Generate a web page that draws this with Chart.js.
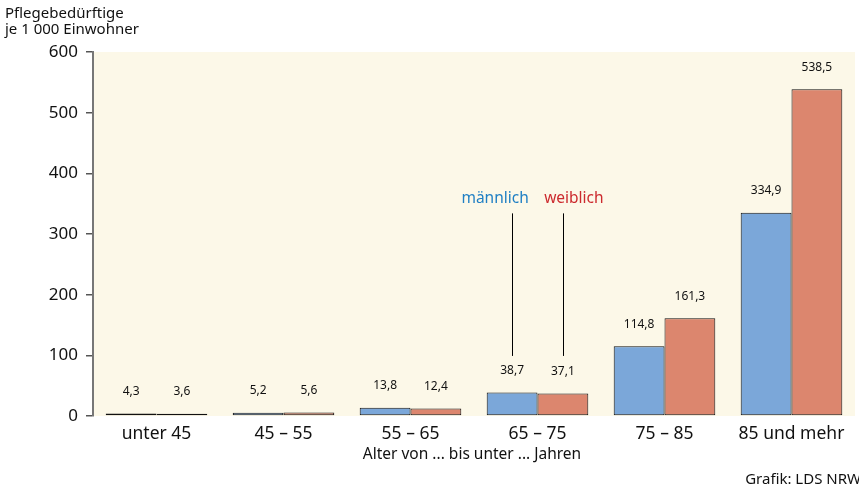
<!DOCTYPE html>
<html>
<head>
<meta charset="utf-8">
<script src="https://cdn.jsdelivr.net/npm/chart.js@4/dist/chart.umd.min.js"></script>
<style>
  html, body { margin: 0; padding: 0; background: #fff; }
  #wrap { width: 859px; height: 494px; position: relative; }
</style>
</head>
<body>
<div id="wrap"><canvas id="chart" width="859" height="494"></canvas></div>
<script>
const categories = ["unter 45", "45 – 55", "55 – 65", "65 – 75", "75 – 85", "85 und mehr"];
const maennlich = [4.3, 5.2, 13.8, 38.7, 114.8, 334.9];
const weiblich = [3.6, 5.6, 12.4, 37.1, 161.3, 538.5];
const yTicks = [0, 100, 200, 300, 400, 500, 600];
// pointer lines of the "männlich"/"weiblich" key, in axis units, at group 4
const keyGroup = 3;
const keyLine = [334, 99];

const FONT = "'Noto Sans', 'DejaVu Sans', sans-serif";
const fmt = v => v.toFixed(1).replace(".", ",");

const decor = {
    id: "decor",
    beforeDraw(chart) {
        const { ctx, chartArea: a } = chart;
        ctx.save();
        ctx.fillStyle = "#fcf8e8";
        ctx.fillRect(a.left, a.top, a.right - a.left, a.bottom - a.top);
        ctx.restore();
    },
    afterDatasetsDraw(chart) {
        const { ctx, chartArea: a, scales } = chart;
        ctx.save();
        ctx.fillStyle = "#111";
        ctx.font = "12px " + FONT;
        ctx.textAlign = "center";
        ctx.textBaseline = "middle";
        chart.data.datasets.forEach((ds, i) => {
            chart.getDatasetMeta(i).data.forEach((bar, j) => {
                ctx.fillText(fmt(ds.data[j]), bar.x, bar.y - 22);
            });
        });

        // key with pointer lines
        const mBar = chart.getDatasetMeta(0).data[keyGroup];
        const wBar = chart.getDatasetMeta(1).data[keyGroup];
        const yTop = scales.y.getPixelForValue(keyLine[0]);
        const yBot = scales.y.getPixelForValue(keyLine[1]);
        ctx.strokeStyle = "#000";
        ctx.lineWidth = 1;
        [mBar.x, wBar.x].forEach(x => {
            ctx.beginPath();
            ctx.moveTo(Math.round(x) + 0.5, yTop);
            ctx.lineTo(Math.round(x) + 0.5, yBot);
            ctx.stroke();
        });
        ctx.font = "15.5px " + FONT;
        ctx.fillStyle = "#1f7fc4";
        ctx.fillText("männlich", mBar.x - 17, yTop - 15);
        ctx.fillStyle = "#cc2a2e";
        ctx.fillText("weiblich", wBar.x + 11, yTop - 15);

        // texts around the plot
        ctx.fillStyle = "#111";
        ctx.font = "15px " + FONT;
        ctx.textAlign = "left";
        ctx.fillText("Pflegebedürftige", 5, 14);
        ctx.fillText("je 1 000 Einwohner", 5, 30);
        ctx.textAlign = "right";
        ctx.fillText("Grafik: LDS NRW", 861, 480);
        ctx.textAlign = "center";
        ctx.font = "15.5px " + FONT;
        ctx.fillText("Alter von ... bis unter ... Jahren", (a.left + a.right) / 2 - 2, 455);
        ctx.restore();
    }
};

new Chart(document.getElementById("chart"), {
    type: "bar",
    data: {
        labels: categories,
        datasets: [
            {
                label: "männlich",
                data: maennlich,
                backgroundColor: "#7ba7d9",
                borderColor: "#111",
                borderWidth: 1,
                borderSkipped: false
            },
            {
                label: "weiblich",
                data: weiblich,
                backgroundColor: "#dc866e",
                borderColor: "#111",
                borderWidth: 1,
                borderSkipped: false
            }
        ],
    },
    options: {
        responsive: false,
        animation: false,
        layout: { padding: { top: 52, right: 4, left: 0, bottom: 0 } },
        plugins: {
            legend: { display: false },
            tooltip: { enabled: false }
        },
        datasets: {
            bar: { barPercentage: 1, categoryPercentage: 0.8 }
        },
        scales: {
            x: {
                grid: { display: false, drawTicks: false },
                border: { display: false },
                ticks: {
                    color: "#111",
                    font: { family: FONT, size: 17.5 },
                    padding: 8,
                    maxRotation: 0
                },
                afterFit: s => { s.height = 78; }
            },
            y: {
                min: 0,
                max: 600,
                afterBuildTicks: s => { s.ticks = yTicks.map(v => ({ value: v })); },
                grid: { drawOnChartArea: false, tickLength: 7, color: "#555", lineWidth: 1.5 },
                border: { color: "#777", width: 2 },
                ticks: {
                    color: "#111",
                    font: { family: FONT, size: 17 },
                    padding: 8
                },
                afterFit: s => { s.width = 93; }
            }
        }
    },
    plugins: [decor]
});
</script>
</body>
</html>
